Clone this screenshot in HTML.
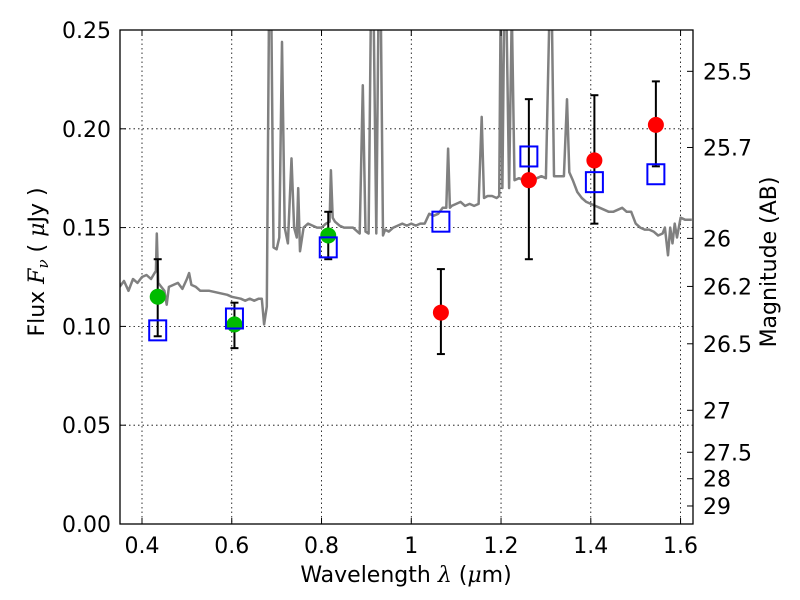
<!DOCTYPE html>
<html><head><meta charset="utf-8"><style>
body{margin:0;background:#fff;}
svg{display:block;font-family:"DejaVu Sans","Liberation Sans",sans-serif;}
</style></head><body>
<svg id="chart" width="800" height="600"></svg>
<script>
const xTicks=[0.4,0.6,0.8,1.0,1.2,1.4,1.6];
const xTickLabels=["0.4","0.6","0.8","1","1.2","1.4","1.6"];
const yTicks=[0,0.05,0.10,0.15,0.20,0.25];
const yTickLabels=["0.00","0.05","0.10","0.15","0.20","0.25"];
const magTicks=[25.5,25.7,26,26.2,26.5,27,27.5,28,29];
const magLabels=["25.5","25.7","26","26.2","26.5","27","27.5","28","29"];
const specLam=[0.35,0.36,0.37,0.38,0.39,0.40,0.41,0.42,0.428,0.431,0.433,0.436,0.45,0.455,0.46,0.47,0.48,0.49,0.50,0.505,0.51,0.52,0.53,0.55,0.57,0.59,0.60,0.62,0.63,0.64,0.65,0.66,0.667,0.672,0.678,0.683,0.688,0.693,0.70,0.706,0.712,0.718,0.725,0.733,0.739,0.745,0.748,0.752,0.76,0.77,0.78,0.79,0.80,0.81,0.818,0.821,0.825,0.83,0.84,0.85,0.86,0.87,0.88,0.885,0.892,0.898,0.905,0.91,0.916,0.922,0.927,0.932,0.937,0.942,0.95,0.96,0.97,0.98,0.99,1.00,1.01,1.02,1.03,1.04,1.05,1.06,1.07,1.078,1.082,1.086,1.09,1.10,1.11,1.12,1.13,1.14,1.15,1.157,1.162,1.17,1.18,1.19,1.196,1.199,1.203,1.207,1.212,1.218,1.224,1.23,1.24,1.25,1.26,1.27,1.28,1.29,1.30,1.308,1.313,1.318,1.322,1.33,1.34,1.347,1.352,1.36,1.37,1.38,1.39,1.40,1.41,1.42,1.43,1.44,1.45,1.46,1.47,1.48,1.49,1.50,1.51,1.52,1.53,1.54,1.55,1.56,1.565,1.572,1.577,1.582,1.587,1.592,1.60,1.61,1.625];
const specFlux=[0.120,0.123,0.118,0.124,0.122,0.125,0.126,0.124,0.127,0.128,0.147,0.122,0.118,0.111,0.120,0.121,0.122,0.119,0.124,0.127,0.121,0.120,0.118,0.118,0.117,0.116,0.115,0.114,0.113,0.114,0.113,0.114,0.114,0.101,0.110,0.26,0.26,0.140,0.139,0.145,0.244,0.150,0.142,0.185,0.150,0.145,0.170,0.138,0.150,0.152,0.151,0.150,0.150,0.152,0.153,0.179,0.155,0.153,0.151,0.150,0.150,0.150,0.148,0.147,0.222,0.148,0.147,0.26,0.26,0.147,0.26,0.26,0.146,0.149,0.148,0.150,0.151,0.152,0.151,0.152,0.151,0.152,0.152,0.157,0.156,0.157,0.160,0.160,0.190,0.160,0.161,0.162,0.163,0.161,0.162,0.161,0.162,0.206,0.165,0.166,0.166,0.165,0.166,0.26,0.170,0.26,0.26,0.170,0.26,0.174,0.175,0.174,0.175,0.174,0.175,0.176,0.175,0.26,0.26,0.176,0.176,0.176,0.176,0.215,0.178,0.174,0.168,0.165,0.163,0.162,0.161,0.160,0.159,0.158,0.158,0.159,0.160,0.158,0.158,0.152,0.150,0.149,0.149,0.148,0.146,0.147,0.150,0.136,0.150,0.142,0.152,0.145,0.155,0.154,0.154];
const photLam=[0.435,0.606,0.815,1.066,1.262,1.408,1.545];
const photFlux=[0.115,0.101,0.146,0.107,0.174,0.184,0.202];
const errLo=[0.095,0.089,0.134,0.086,0.134,0.152,0.181];
const errHi=[0.134,0.112,0.158,0.129,0.215,0.217,0.224];
const photColor=["#00bb00","#00bb00","#00bb00","#ff0000","#ff0000","#ff0000","#ff0000"];
const modelLam=[0.435,0.606,0.815,1.066,1.262,1.408,1.545];
const modelFlux=[0.098,0.104,0.140,0.153,0.186,0.173,0.177];

const L=120,R=693,T=30,B=524;
const X=v=>142+(v-0.4)*448.8;
const Y=v=>B-v/0.25*(B-T);
const magY=m=>Y(Math.pow(10,(23.9-m)/2.5));
const NS="http://www.w3.org/2000/svg";
const svg=document.getElementById('chart');
function mk(tag,attrs,parent){const e=document.createElementNS(NS,tag);for(const k in attrs)e.setAttribute(k,attrs[k]);(parent||svg).appendChild(e);return e;}

const defs=mk('defs',{});const cp=mk('clipPath',{id:'clip'},defs);mk('rect',{x:L,y:T,width:R-L,height:B-T},cp);

xTicks.forEach(t=>{const g=mk('line',{x1:X(t),x2:X(t),y1:T,y2:B,stroke:'#000','stroke-width':0.8,'stroke-dasharray':'1.5,3'});

});
yTicks.forEach(t=>{const g=mk('line',{x1:L,x2:R,y1:Y(t),y2:Y(t),stroke:'#000','stroke-width':0.8,'stroke-dasharray':'1.5,3'});

});

const pts=specLam.map((l,i)=>X(l).toFixed(1)+','+Y(specFlux[i]).toFixed(1)).join(' ');
const sp=mk('polyline',{points:pts,fill:'none',stroke:'#808080','stroke-width':2.5,'stroke-linejoin':'round','clip-path':'url(#clip)'});



photLam.forEach((l,i)=>{const x=X(l);
const e=mk('g',{stroke:'#000','stroke-width':2});


mk('line',{x1:x,x2:x,y1:Y(errLo[i]),y2:Y(errHi[i])},e);
mk('line',{x1:x-4,x2:x+4,y1:Y(errLo[i]),y2:Y(errLo[i])},e);
mk('line',{x1:x-4,x2:x+4,y1:Y(errHi[i]),y2:Y(errHi[i])},e);});

photLam.forEach((l,i)=>{const c=mk('circle',{cx:X(l),cy:Y(photFlux[i]),r:8,fill:photColor[i]});

});
modelLam.forEach((l,i)=>{const s=mk('rect',{x:X(l)-8.5,y:Y(modelFlux[i])-10,width:17,height:20,fill:'none',stroke:'#0000ff','stroke-width':2});

});

const fr=mk('rect',{x:L,y:T,width:R-L,height:B-T,fill:'none',stroke:'#000','stroke-width':1.3});



xTicks.forEach((t,i)=>{mk('line',{x1:X(t),x2:X(t),y1:B,y2:B-6,stroke:'#000'});mk('line',{x1:X(t),x2:X(t),y1:T,y2:T+6,stroke:'#000'});
const tx=mk('text',{x:X(t),y:B+29,'text-anchor':'middle','font-size':22});tx.textContent=xTickLabels[i];

});
yTicks.forEach((t,i)=>{mk('line',{x1:L,x2:L+6,y1:Y(t),y2:Y(t),stroke:'#000'});
const tx=mk('text',{x:L-9,y:Y(t)+8,'text-anchor':'end','font-size':22});tx.textContent=yTickLabels[i];

});
magTicks.forEach((m,i)=>{const y=magY(m);mk('line',{x1:R,x2:R-6,y1:y,y2:y,stroke:'#000'});
const tx=mk('text',{x:R+10,y:y+8,'font-size':22});tx.textContent=magLabels[i];

});

let t=mk('text',{x:406,y:582,'text-anchor':'middle','font-size':22});
t.innerHTML='Wavelength  <tspan font-style="italic" font-family="DejaVu Serif,serif">λ</tspan> (<tspan font-style="italic" font-family="DejaVu Serif,serif">μ</tspan>m)';


t=mk('text',{x:0,y:0,'text-anchor':'middle','font-size':22,transform:'translate(44,262) rotate(-90)'});
t.innerHTML='Flux  <tspan font-style="italic" font-family="DejaVu Serif,serif">F<tspan font-size="15" dy="4">ν</tspan></tspan><tspan dy="-4">  ( </tspan><tspan font-style="italic" font-family="DejaVu Serif,serif">μ</tspan>Jy )';


t=mk('text',{x:0,y:0,'text-anchor':'middle','font-size':22,transform:'translate(776,262) rotate(-90)'});
t.textContent='Magnitude (AB)';


</script>
</body></html>
